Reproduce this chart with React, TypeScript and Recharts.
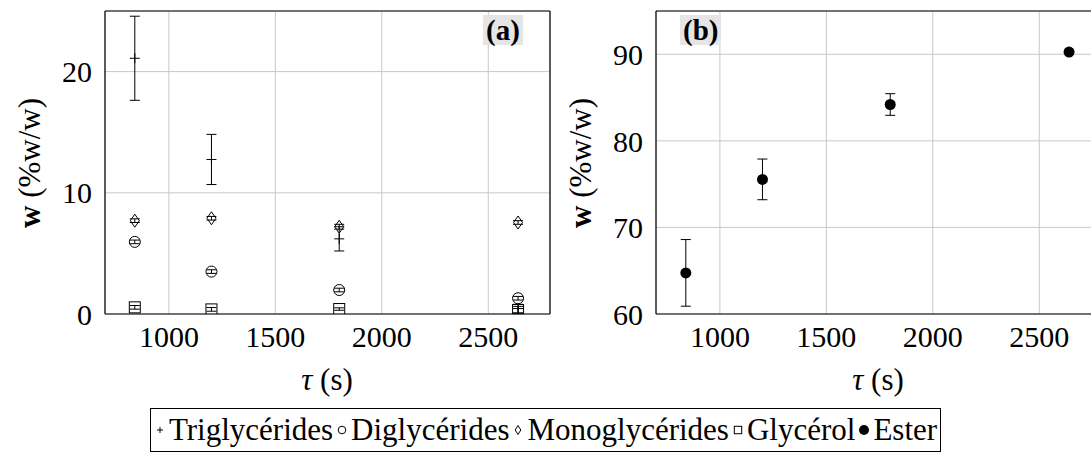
import React from 'react';
import { ScatterChart, Scatter, XAxis, YAxis, CartesianGrid, ErrorBar } from 'recharts';

const times = [840, 1200, 1800, 2640];
const triglycerides = [21.1, 12.75, 6.2, 0.45];
const triglyceridesErr = [3.47, 2.07, 1.0, 0.35];
const diglycerides = [5.95, 3.5, 1.98, 1.3];
const diglyceridesErr = [0.15, 0.15, 0.15, 0.15];
const monoglycerides = [7.7, 7.9, 7.2, 7.55];
const monoglyceridesErr = [0.15, 0.15, 0.2, 0.15];
const glycerol = [0.55, 0.38, 0.41, 0.33];
const glycerolErr = [0.15, 0.15, 0.1, 0.3];
const ester = [64.75, 75.55, 84.2, 90.25];
const esterErr = [3.85, 2.35, 1.25, 0.2];

const xTicks = [1000, 1500, 2000, 2500];
const yTicksA = [0, 10, 20];
const yTicksB = [60, 70, 80, 90];
const xDomain: [number, number] = [700, 2790];
const yDomainA: [number, number] = [0, 25];
const yDomainB: [number, number] = [60, 95];

const legendLabels = ['Triglycérides', 'Diglycérides', 'Monoglycérides', 'Glycérol', 'Ester'];

const FONT = 'Liberation Serif';
const rows = (vals: number[], errs: number[]) => times.map((t, i) => ({ x: t, y: vals[i], err: errs[i] }));

const PlusShape = (p: any) => (
  <path d={`M${p.cx - 5},${p.cy}H${p.cx + 5}M${p.cx},${p.cy - 5}V${p.cy + 5}`} stroke="#000" strokeWidth={1} fill="none" />
);
const CircleShape = (p: any) => <circle cx={p.cx} cy={p.cy} r={5.5} stroke="#000" strokeWidth={1} fill="none" />;
const DiamondShape = (p: any) => (
  <path d={`M${p.cx},${p.cy - 6.5}L${p.cx + 4.5},${p.cy}L${p.cx},${p.cy + 6.5}L${p.cx - 4.5},${p.cy}Z`} stroke="#000" strokeWidth={1} fill="none" />
);
const SquareShape = (p: any) => <rect x={p.cx - 5.5} y={p.cy - 5.5} width={11} height={11} stroke="#000" strokeWidth={1} fill="none" />;
const DotShape = (p: any) => <circle cx={p.cx} cy={p.cy} r={5.5} fill="#000" />;

const margin = { top: 11, right: 50, bottom: 6, left: 25 };
const tickStyle = { fontSize: 30, fill: '#000', fontFamily: FONT };
const innerTick = { stroke: '#808080', strokeWidth: 1 };

function frameAxes(yDomain: [number, number], yTicks: number[]) {
  return [
    <XAxis key="xt" xAxisId="top" orientation="top" mirror type="number" domain={xDomain} ticks={xTicks} allowDataOverflow tick={false} tickSize={10} tickLine={innerTick} axisLine={{ stroke: '#000', strokeWidth: 1.2 }} />,
    <XAxis key="xb" xAxisId="bt" orientation="bottom" mirror type="number" domain={xDomain} ticks={xTicks} allowDataOverflow tick={false} tickSize={10} tickLine={innerTick} axisLine={false} />,
    <YAxis key="yr" yAxisId="right" orientation="right" mirror type="number" domain={yDomain} ticks={yTicks} allowDataOverflow tick={false} tickSize={10} tickLine={innerTick} axisLine={{ stroke: '#000', strokeWidth: 1.2 }} />,
    <YAxis key="yl" yAxisId="lt" orientation="left" mirror type="number" domain={yDomain} ticks={yTicks} allowDataOverflow tick={false} tickSize={10} tickLine={innerTick} axisLine={false} />,
  ];
}

function mainAxes(yDomain: [number, number], yTicks: number[]) {
  return [
    <CartesianGrid key="g" stroke="#c8c8c8" strokeWidth={1} />,
    <XAxis key="x" dataKey="x" type="number" domain={xDomain} ticks={xTicks} allowDataOverflow tickLine={false} tickSize={8} tickMargin={4} height={40} tick={tickStyle} axisLine={{ stroke: '#000', strokeWidth: 1.2 }} />,
    <YAxis key="y" dataKey="y" type="number" domain={yDomain} ticks={yTicks} allowDataOverflow tickLine={false} tickSize={8} tickMargin={5} width={80} tick={tickStyle} axisLine={{ stroke: '#000', strokeWidth: 1.2 }} />,
  ];
}

const PanelTag = ({ text, left }: { text: string; left: number }) => (
  <div style={{ position: 'absolute', left, top: 15, height: 30, lineHeight: '30px', padding: '0 3px', background: '#e5e5e5', fontFamily: FONT, fontWeight: 'bold', fontSize: 29 }}>{text}</div>
);

const YLabel = ({ cx }: { cx: number }) => (
  <div style={{ position: 'absolute', left: cx - 100, top: 163 - 18, width: 200, height: 36, lineHeight: '36px', textAlign: 'center', transform: 'rotate(-90deg)', fontFamily: FONT, fontSize: 31, whiteSpace: 'nowrap' }}>
    <b>w</b> (%w/w)
  </div>
);

const XLabel = ({ cx }: { cx: number }) => (
  <div style={{ position: 'absolute', left: cx - 100, top: 362, width: 200, height: 36, lineHeight: '36px', textAlign: 'center', fontFamily: FONT, fontSize: 31, whiteSpace: 'nowrap' }}>
    <i>τ</i> (s)
  </div>
);

const LegendSym = ({ kind }: { kind: number }) => (
  <svg width={12} height={12} style={{ verticalAlign: 'middle', margin: '0 3px 5px 3px' }}>
    {kind === 0 && <path d="M3,6H9M6,3V9" stroke="#000" strokeWidth={1} />}
    {kind === 1 && <circle cx={6} cy={6} r={3.8} stroke="#000" fill="none" />}
    {kind === 2 && <path d="M6,1.5L8.8,6L6,10.5L3.2,6Z" stroke="#000" fill="none" />}
    {kind === 3 && <rect x={2.3} y={2.3} width={7.4} height={7.4} stroke="#000" fill="none" />}
    {kind === 4 && <circle cx={6} cy={6} r={5} fill="#000" />}
  </svg>
);

export default function App() {
  return (
    <div style={{ position: 'fixed', left: 0, top: 0, width: 1091, height: 454, overflow: 'hidden', background: '#fff', fontFamily: FONT }}>
      <div style={{ position: 'absolute', left: 0, top: 0 }}>
        <ScatterChart width={600} height={360} margin={margin}>
          {mainAxes(yDomainA, yTicksA)}
          {frameAxes(yDomainA, yTicksA)}
          <Scatter name={legendLabels[0]} data={rows(triglycerides, triglyceridesErr)} shape={PlusShape} isAnimationActive={false}>
            <ErrorBar dataKey="err" direction="y" width={5} stroke="#000" strokeWidth={1} />
          </Scatter>
          <Scatter name={legendLabels[1]} data={rows(diglycerides, diglyceridesErr)} shape={CircleShape} isAnimationActive={false}>
            <ErrorBar dataKey="err" direction="y" width={5} stroke="#000" strokeWidth={1} />
          </Scatter>
          <Scatter name={legendLabels[2]} data={rows(monoglycerides, monoglyceridesErr)} shape={DiamondShape} isAnimationActive={false}>
            <ErrorBar dataKey="err" direction="y" width={5} stroke="#000" strokeWidth={1} />
          </Scatter>
          <Scatter name={legendLabels[3]} data={rows(glycerol, glycerolErr)} shape={SquareShape} isAnimationActive={false}>
            <ErrorBar dataKey="err" direction="y" width={5} stroke="#000" strokeWidth={1} />
          </Scatter>
        </ScatterChart>
      </div>
      <div style={{ position: 'absolute', left: 551, top: 0 }}>
        <ScatterChart width={600} height={360} margin={margin}>
          {mainAxes(yDomainB, yTicksB)}
          {frameAxes(yDomainB, yTicksB)}
          <Scatter name={legendLabels[4]} data={rows(ester, esterErr)} shape={DotShape} isAnimationActive={false}>
            <ErrorBar dataKey="err" direction="y" width={5} stroke="#000" strokeWidth={1} />
          </Scatter>
        </ScatterChart>
      </div>
      <PanelTag text="(a)" left={483} />
      <PanelTag text="(b)" left={680} />
      <YLabel cx={30} />
      <YLabel cx={581} />
      <XLabel cx={327} />
      <XLabel cx={878} />
      <div style={{ position: 'absolute', left: 0, width: 1091, top: 408, textAlign: 'center' }}>
        <div style={{ display: 'inline-block', borderTop: '1.3px solid #000', borderLeft: '1.3px solid #000', borderRight: '1.3px solid #000', borderBottom: '1.3px solid #000', padding: '0 3px 0 0', fontFamily: FONT, fontSize: 31, whiteSpace: 'nowrap', lineHeight: '42px', height: 42 }}>
          {legendLabels.map((l, i) => (
            <span key={l}><LegendSym kind={i} />{l}</span>
          ))}
        </div>
      </div>
    </div>
  );
}
